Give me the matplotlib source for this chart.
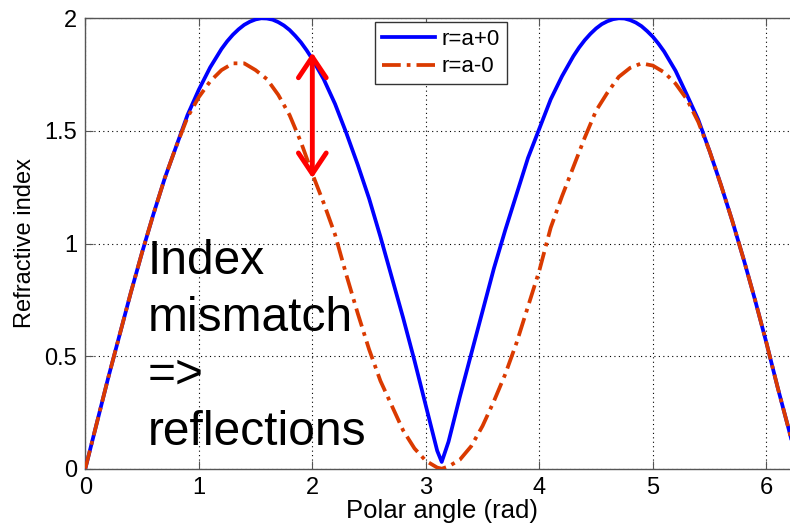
import numpy as np
import matplotlib
matplotlib.use("Agg")
import matplotlib.pyplot as plt

plt.rcParams['font.family'] = ['Liberation Sans', 'DejaVu Sans']

# polar angle grid (rad), r = a+0 (denser near the peaks)
theta_plus = [0.0, 0.1, 0.2, 0.3, 0.4, 0.5, 0.6, 0.7, 0.8, 0.9,
              1.0, 1.1, 1.2, 1.25, 1.3, 1.35, 1.4, 1.45, 1.5, 1.55, 1.6,
              1.65, 1.7, 1.75, 1.8, 1.85, 1.9, 1.95,
              2.0, 2.1, 2.2, 2.3, 2.4, 2.5, 2.6, 2.7, 2.8, 2.9,
              3.0, 3.1, 3.14, 3.2, 3.3, 3.4, 3.5, 3.6, 3.7, 3.8, 3.9,
              4.0, 4.1, 4.2, 4.3, 4.35, 4.4, 4.45, 4.5, 4.55, 4.6, 4.65,
              4.7, 4.75, 4.8, 4.85, 4.9, 4.95, 5.0, 5.05,
              5.1, 5.2, 5.3, 5.4, 5.5, 5.6, 5.7, 5.8, 5.9,
              6.0, 6.1, 6.2, 6.28]
n_plus = [0.00, 0.20, 0.40, 0.59, 0.78, 0.96, 1.13, 1.29, 1.43, 1.57,
          1.683, 1.782, 1.864, 1.898, 1.927, 1.951, 1.971, 1.985, 1.995, 2.000, 1.999,
          1.994, 1.983, 1.968, 1.948, 1.922, 1.893, 1.858,
          1.819, 1.73, 1.62, 1.49, 1.35, 1.20, 1.03, 0.85, 0.67, 0.48,
          0.28, 0.08, 0.03, 0.12, 0.32, 0.51, 0.70, 0.89, 1.06, 1.22, 1.38,
          1.51, 1.64, 1.743, 1.832, 1.870, 1.903, 1.931, 1.955, 1.974, 1.987, 1.996,
          2.000, 1.999, 1.992, 1.981, 1.965, 1.943, 1.918, 1.887,
          1.852, 1.767, 1.66, 1.55, 1.41, 1.26, 1.10, 0.93, 0.75,
          0.56, 0.36, 0.17, 0.01]

# r = a-0
theta_minus = [0.0, 0.1, 0.2, 0.3, 0.4, 0.5, 0.6, 0.7, 0.8, 0.9,
               1.0, 1.1, 1.2, 1.3, 1.4, 1.5, 1.6, 1.7, 1.8, 1.9,
               2.0, 2.1, 2.2, 2.3, 2.4, 2.5, 2.6, 2.7, 2.8, 2.9,
               3.0, 3.1, 3.14, 3.2, 3.3, 3.4, 3.5, 3.6, 3.7, 3.8, 3.9,
               4.0, 4.1, 4.2, 4.3, 4.4, 4.5, 4.6, 4.7, 4.8, 4.9,
               5.0, 5.1, 5.2, 5.3, 5.4, 5.5, 5.6, 5.7, 5.8, 5.9,
               6.0, 6.1, 6.2, 6.28]
n_minus = [0.00, 0.20, 0.40, 0.59, 0.78, 0.96, 1.13, 1.29, 1.43, 1.56,
           1.65, 1.72, 1.77, 1.80, 1.80, 1.77, 1.73, 1.66, 1.57, 1.45,
           1.31, 1.18, 1.04, 0.86, 0.69, 0.53, 0.39, 0.28, 0.17, 0.09,
           0.035, 0.005, 0.0, 0.01, 0.04, 0.10, 0.19, 0.30, 0.42, 0.56, 0.72,
           0.88, 1.07, 1.21, 1.34, 1.47, 1.59, 1.67, 1.74, 1.78, 1.80,
           1.79, 1.76, 1.71, 1.64, 1.54, 1.41, 1.26, 1.10, 0.93, 0.75,
           0.56, 0.36, 0.17, 0.01]

labels = ['r=a+0', 'r=a-0']
arrow_x = 2.0
arrow_top, arrow_bottom = 1.848, 1.29

W, H = 790, 526
fig = plt.figure(figsize=(W / 100, H / 100), dpi=100)
ax = fig.add_axes([85.3 / W, (H - 468.7) / H, 713.2 / W, 450.4 / H])

ax.plot(theta_plus, n_plus, color='#0000FF', lw=2.7, label=labels[0], zorder=3,
        solid_joinstyle='round')
ax.plot(theta_minus, n_minus, color='#DA3A00', lw=2.7,
        linestyle=(0, (5, 1.6, 1, 1.6)), label=labels[1], zorder=4)

ax.annotate('', xy=(arrow_x, arrow_top), xytext=(arrow_x, arrow_bottom),
            arrowprops=dict(arrowstyle='<->,head_length=0.75,head_width=0.5',
                            color='red', lw=3.5, mutation_scale=20,
                            shrinkA=0, shrinkB=0),
            zorder=5)

ax.text(0.55, 1.02, 'Index\nmismatch\n=>\nreflections', fontsize=34.5,
        ha='left', va='top', linespacing=1.34, color='black', zorder=6)

ax.set_xlim(0, 2 * np.pi)
ax.set_ylim(0, 2)
ax.set_xticks([0, 1, 2, 3, 4, 5, 6])
ax.set_yticks([0, 0.5, 1, 1.5, 2])
ax.set_yticklabels(['0', '0.5', '1', '1.5', '2'])
ax.grid(True, linestyle=(0, (1, 3)), color='black', lw=0.8)
ax.set_axisbelow(True)
ax.tick_params(direction='in', length=6, top=True, right=True,
               labelsize=17, pad=6, color='#555555')
for s in ax.spines.values():
    s.set_color('#555555')
    s.set_linewidth(1.0)

ax.set_xlabel('Polar angle (rad)', fontsize=18.5, labelpad=0)
ax.set_ylabel('Refractive index', fontsize=17, labelpad=6)

leg = ax.legend(loc='upper left', bbox_to_anchor=(375 / W, 1 - 22 / H),
                bbox_transform=fig.transFigure, fontsize=16, fancybox=False,
                framealpha=1, edgecolor='#333333', handlelength=2.4,
                borderpad=0.3, labelspacing=0.3, handletextpad=0.3,
                borderaxespad=0)
leg.get_frame().set_linewidth(1.0)

fig.savefig('out.png', dpi=100)
